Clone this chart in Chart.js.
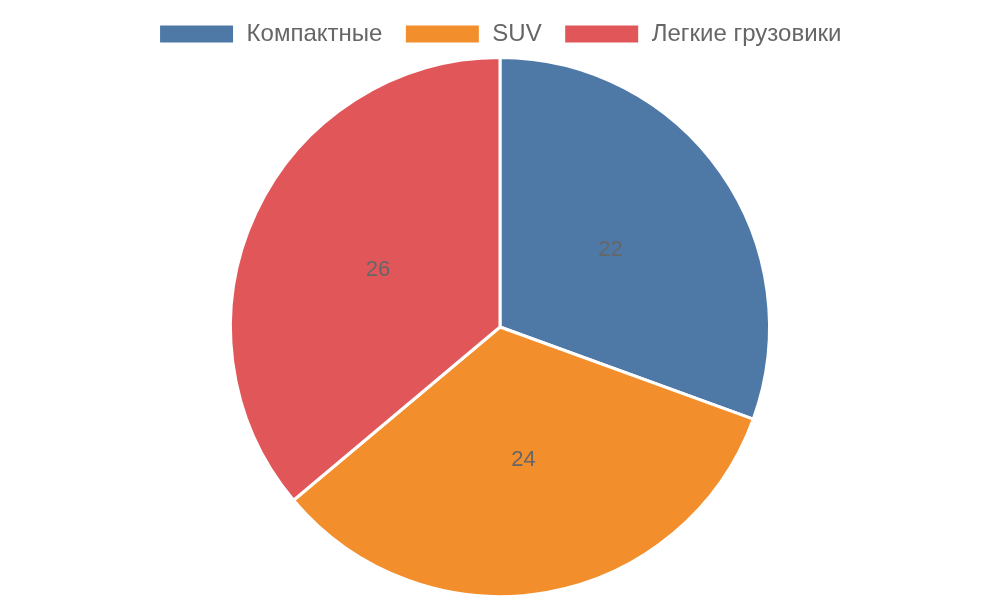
<!DOCTYPE html>
<html><head><meta charset="utf-8">
<script src="https://cdn.jsdelivr.net/npm/chart.js@4"></script>
<style>html,body{margin:0;padding:0;background:#fff}#w{width:1000px;height:600px}</style>
</head><body><div id="w"><canvas id="c"></canvas></div>
<script>
const categories = ['Компактные', 'SUV', 'Легкие грузовики'];
const values = [22, 24, 26];
const colors = ['#4e79a7', '#f28e2b', '#e15759'];

const labelPlugin = {
  id: 'sliceLabels',
  afterDatasetsDraw(chart) {
    const ctx = chart.ctx;
    const meta = chart.getDatasetMeta(0);
    ctx.save();
    ctx.font = '22px "Liberation Sans", Arial, sans-serif';
    ctx.fillStyle = '#666';
    ctx.textAlign = 'center';
    ctx.textBaseline = 'middle';
    meta.data.forEach((arc, i) => {
      const p = arc.tooltipPosition();
      ctx.fillText(String(values[i]), p.x, p.y);
    });
    ctx.restore();
  }
};

Chart.defaults.font.family = '"Liberation Sans", Arial, sans-serif';
new Chart(document.getElementById('c'), {
  type: 'pie',
  data: { labels: categories, datasets: [{ data: values, backgroundColor: colors, borderColor: '#fff', borderWidth: 3 }] },
  options: {
    responsive: true, maintainAspectRatio: false, animation: false,
    layout: { padding: { bottom: 2 } },
    plugins: {
      legend: { position: 'top', labels: { boxWidth: 76, boxHeight: 20, font: { size: 24 }, color: '#666', padding: 22 } },
      tooltip: { enabled: false }
    }
  },
  plugins: [labelPlugin]
});
</script></body></html>
